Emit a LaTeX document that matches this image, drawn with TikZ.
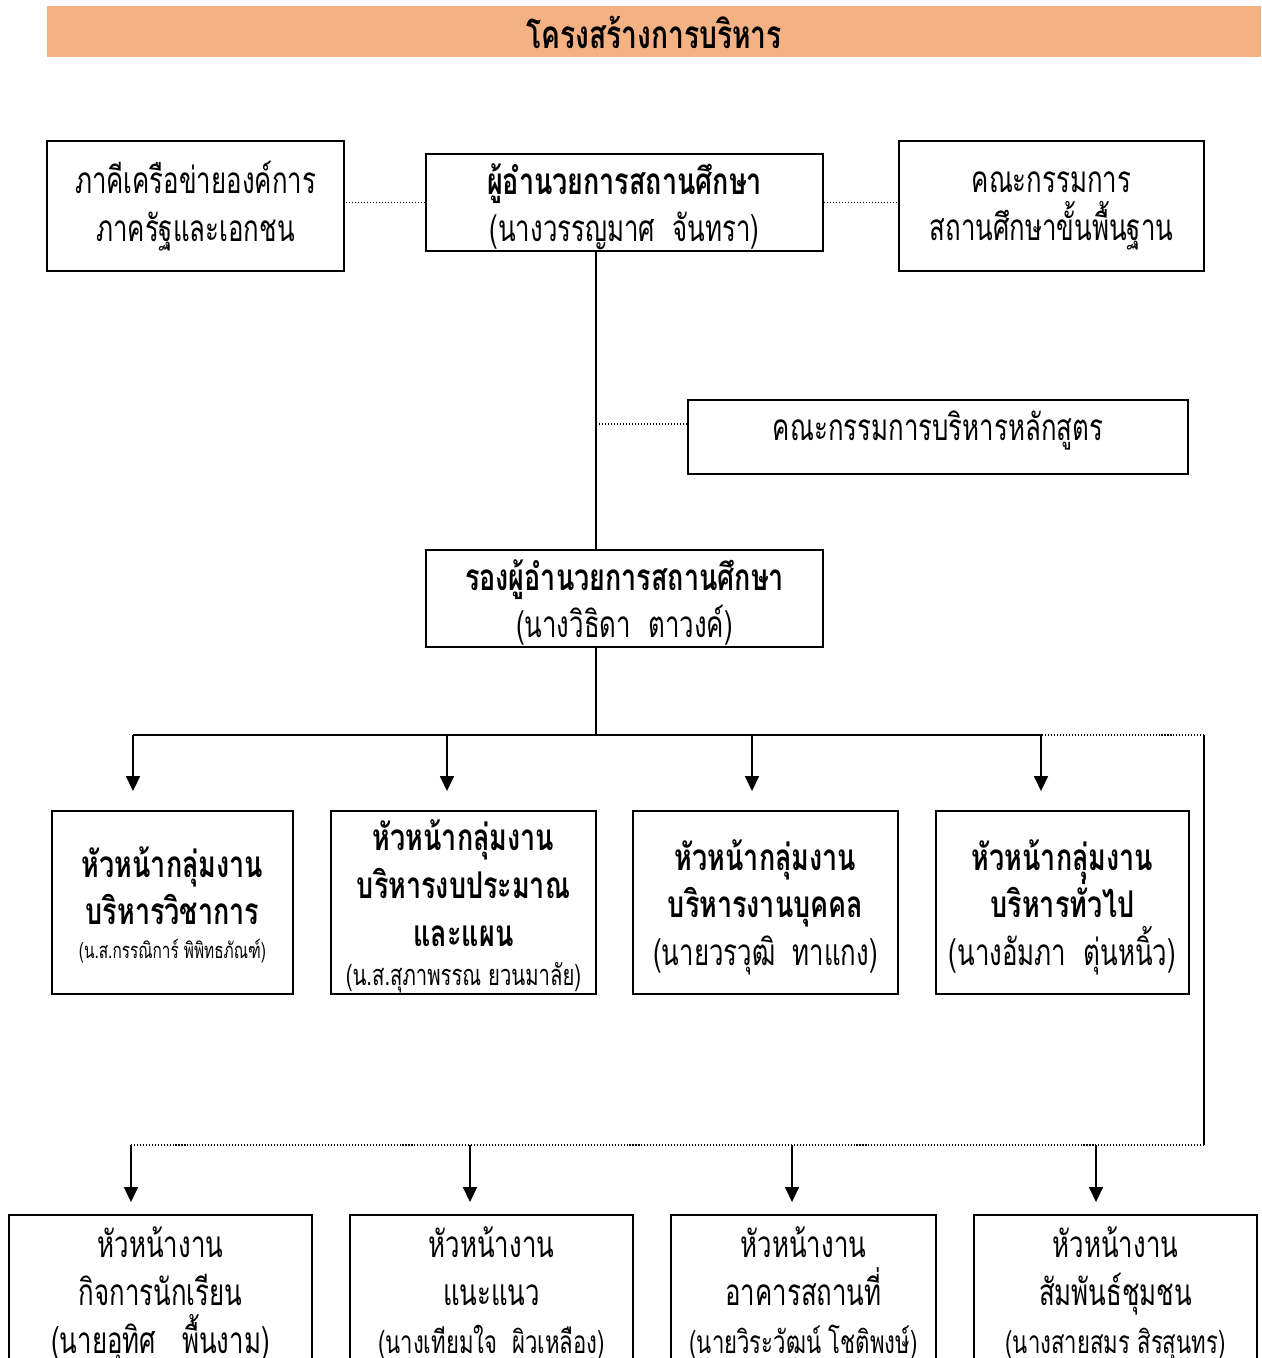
\documentclass[tikz,border=0pt]{standalone}
\usepackage{fontspec}
\setmainfont{Loma}[Script=Thai, FakeStretch=0.70, BoldFeatures={FakeStretch=0.73}]
\usetikzlibrary{arrows.meta}
\definecolor{bandorange}{RGB}{244,177,131}
\newcommand{\tightlines}{\lineskiplimit=-30pt\relax}

\begin{document}
\begin{tikzpicture}[
    x=0.02cm, y=-0.02cm,
    font=\fontsize{21}{27.2}\selectfont\tightlines,
    % Styles
    title_band/.style={fill=bandorange, inner sep=0pt, font=\fontsize{22}{27}\selectfont\bfseries},
    box_base/.style={draw, line width=1.1pt, align=center, inner sep=2pt},
    unit_box/.style={box_base, text depth=0pt},
    solid_link/.style={line width=0.9pt},
    dotted_link/.style={line width=0.8pt, dash pattern=on 0.6pt off 1.1pt},
    down_arrow/.style={line width=0.9pt, -{Triangle[width=0.28cm, length=0.3cm]}}
]

    % ==========================================
    % 1. PAGE FRAME & TITLE
    % ==========================================
    \useasboundingbox (0,0) rectangle (1261,1358);
    \clip (0,0) rectangle (1261,1358);
    \node[title_band, minimum width=24.28cm, minimum height=1.02cm] (title) at (654,32) {โครงสร้างการบริหาร};

    % ==========================================
    % 2. TOP LEVEL (Director and partners)
    % ==========================================
    \node[box_base, minimum width=5.94cm, minimum height=2.6cm] (partner) at (195.5,206)
        {ภาคีเครือข่ายองค์การ\\ภาครัฐและเอกชน};
    \node[unit_box, minimum width=7.94cm, minimum height=1.94cm] (director) at (624.5,202.5)
        {\bfseries ผู้อำนวยการสถานศึกษา\\\mdseries (นางวรรญมาศ\ \ จันทรา)};
    \node[unit_box, minimum width=6.1cm, minimum height=2.6cm] (board) at (1051.5,206)
        {คณะกรรมการ\\สถานศึกษาขั้นพื้นฐาน};

    % Curriculum committee (text sits high in its box)
    \node[unit_box, minimum width=10cm, minimum height=1.48cm] (curriculum) at (938,437) {};
    \node (curriculum_text) at (938,430) {คณะกรรมการบริหารหลักสูตร};

    % ==========================================
    % 3. DEPUTY
    % ==========================================
    \node[unit_box, minimum width=7.94cm, minimum height=1.94cm] (deputy) at (624.5,598.5)
        {\bfseries รองผู้อำนวยการสถานศึกษา\\\mdseries (นางวิธิดา\ \ ตาวงค์)};

    % ==========================================
    % 4. GROUP HEADS
    % ==========================================
    \node[unit_box, minimum width=4.82cm, minimum height=3.66cm] (group1) at (172.5,902.5)
        {\bfseries หัวหน้ากลุ่มงาน\\\bfseries บริหารวิชาการ\\[-8pt]\fontsize{12.5}{21.5}\selectfont\mdseries (น.ส.กรรณิการ์ พิพิทธภัณฑ์)};
    \node[unit_box, minimum width=5.3cm, minimum height=3.66cm] (group2) at (463.5,902.5)
        {\bfseries หัวหน้ากลุ่มงาน\\\bfseries บริหารงบประมาณ\\\bfseries และแผน\\[-5pt]\fontsize{16.5}{23.2}\selectfont\mdseries (น.ส.สุภาพรรณ ยวนมาลัย)};
    \node[unit_box, minimum width=5.3cm, minimum height=3.66cm] (group3) at (765.5,902.5)
        {\bfseries หัวหน้ากลุ่มงาน\\\bfseries บริหารงานบุคคล\\\mdseries (นายวรวุฒิ\ \ ทาแกง)};
    \node[unit_box, minimum width=5.06cm, minimum height=3.66cm] (group4) at (1062.5,902.5)
        {\bfseries หัวหน้ากลุ่มงาน\\\bfseries บริหารทั่วไป\\\mdseries (นางอัมภา\ \ ตุ่นหนิ้ว)};

    % ==========================================
    % 5. SECTION HEADS (cut by the page edge)
    % ==========================================
    \node[unit_box, minimum width=6.06cm, minimum height=3cm] (sect1) at (160.5,1290)
        {หัวหน้างาน\\กิจการนักเรียน\\(นายอุทิศ\ \ \ พื้นงาม)};
    \node[unit_box, minimum width=5.66cm, minimum height=3cm] (sect2) at (491.5,1290)
        {หัวหน้างาน\\แนะแนว\\\fontsize{18}{27}\selectfont (นางเทียมใจ\ \ ผิวเหลือง)};
    \node[unit_box, minimum width=5.3cm, minimum height=3cm] (sect3) at (803.5,1290)
        {หัวหน้างาน\\อาคารสถานที่\\\fontsize{18}{27}\selectfont (นายวิระวัฒน์ โชติพงษ์)};
    \node[unit_box, minimum width=5.66cm, minimum height=3cm] (sect4) at (1115.5,1290)
        {หัวหน้างาน\\สัมพันธ์ชุมชน\\\fontsize{18}{27}\selectfont (นางสายสมร สิรสุนทร)};

    % ==========================================
    % 6. CONNECTORS
    % ==========================================
    \coordinate (trunk) at (596,0);
    \coordinate (curr_joint) at (596,424);
    \coordinate (bus_left) at (133,735);
    \coordinate (bus_mid) at (596,735);
    \coordinate (bus_solid_end) at (1042,735);
    \coordinate (bus_right) at (1204,735);
    \coordinate (low_right) at (1204,1145);
    \coordinate (low_left) at (131,1145);

    % dotted advisory links
    \draw[dotted_link] (director.west) -- (director.west -| partner.east);
    \draw[dotted_link] (director.east) -- (director.east -| board.west);
    \draw[dotted_link] (curr_joint) -- (curr_joint -| curriculum.west);

    % command line
    \draw[solid_link] (director.south -| trunk) -- (deputy.north -| trunk);
    \draw[solid_link] (deputy.south -| trunk) -- (bus_mid);
    \draw[solid_link] (bus_left) -- (bus_solid_end);
    \draw[dotted_link] (bus_solid_end) -- (bus_right);
    \draw[line width=0.6pt] (bus_right) -- (low_right);
    \draw[dotted_link] (low_right) -- (low_left);

    % arrows to group heads
    \foreach \x/\g in {133/group1, 447/group2, 752/group3, 1041/group4} {
        \draw[down_arrow, shorten >=0.38cm] (\x,735) -- (\x,735 |- \g.north);
    }
    % arrows to section heads
    \foreach \x/\s in {131/sect1, 470/sect2, 792/sect3, 1096/sect4} {
        \draw[down_arrow, shorten >=0.24cm] (\x,1145) -- (\x,1145 |- \s.north);
    }

\end{tikzpicture}
\end{document}
